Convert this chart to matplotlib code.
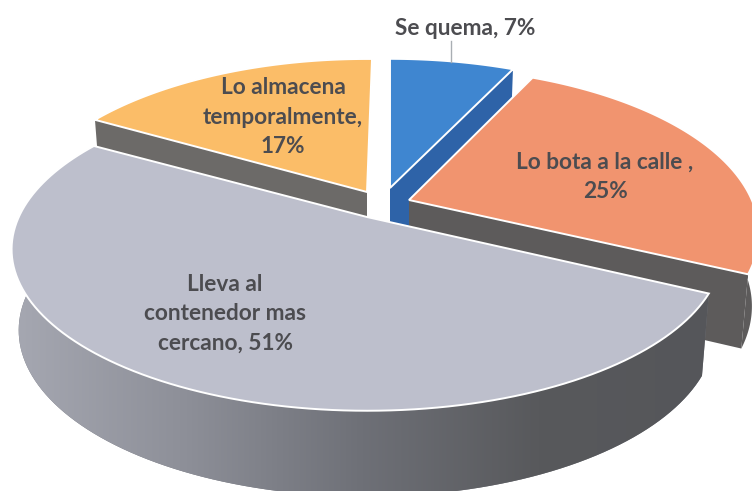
import numpy as np
import matplotlib
matplotlib.use('Agg')
import matplotlib.pyplot as plt
from matplotlib.patches import Polygon
from matplotlib.colors import LinearSegmentedColormap

# Data, clockwise from 12 o'clock
labels = ['Se quema, 7%', 'Lo bota a la calle ,\n25%', 'Lleva al\ncontenedor mas\ncercano, 51%',
          'Lo almacena\ntemporalmente,\n17%']
values = [7, 25, 51, 17]

# Styles
top_colors = ['#3f86d0', '#f1946f', '#bdbfcc', '#fbbd68']
wall_colors = ['#2e63a8', '#5d5b5b', '#777981', '#6c6a68']
apexes = [(390, 188), (409, 200), (367, 217), (367, 192)]
scales = [(0.95, 1.0), (0.955, 1.03), (0.97, 1.0), (0.96, 1.03)]
spins = [0, 0, 1.5, 1.0]
depths = [72, 72, 80, 72]
label_pos = [(465, 28), (605, 177), (225, 314), (283, 117)]
# the cut face that can be seen: 0 = start edge, 1 = end edge, None = no face
faces = [1, 1, None, 0]
outer_wall = [False, True, True, False]
draw_order = [3, 0, 1, 2]

# Fake perspective of the pie plane
RX, RY, K = 359, 155, 0.2
SX, SY = 0.98, 1.03

fig = plt.figure(figsize=(7.52, 4.91), dpi=100)
ax = fig.add_axes([0, 0, 1, 1])


def rim(theta, scale):
    u, v = np.sin(theta), -np.cos(theta)
    w = 1 - K * v
    return scale[0] * RX * u / w, scale[1] * RY * v / w


def top_pts(apex, theta, scale):
    dx, dy = rim(theta, scale)
    return np.column_stack([apex[0] + dx, apex[1] + dy])


def bottom_pts(apex, theta, scale, depth):
    dx, dy = rim(theta, scale)
    return np.column_stack([apex[0] + SX * dx, apex[1] + SY * dy + depth])


edges = np.cumsum([0] + values) / sum(values) * 2 * np.pi
gradient = LinearSegmentedColormap.from_list('wall', ['#a6a8b2', '#8d8f98', '#6e7077', '#58595c', '#55565a'])

for n, i in enumerate(draw_order):
    spin = np.deg2rad(spins[i])
    theta = np.linspace(edges[i] + spin, edges[i + 1] + spin, 120)
    apex = apexes[i]
    t = top_pts(apex, theta, scales[i])
    b = bottom_pts(apex, theta, scales[i], depths[i])
    if outer_wall[i]:
        wall = Polygon(np.vstack([t, b[::-1]]), closed=True, fc=wall_colors[i], ec='none', zorder=n * 3 + 1)
        ax.add_patch(wall)
    if i == 2:
        # the big slice has a shaded wall
        img = ax.imshow(np.linspace(0, 1, 256).reshape(1, -1), cmap=gradient, extent=(10, 715, 491, 200),
                        aspect='auto', zorder=n * 3 + 1.5)
        img.set_clip_path(wall)
    if faces[i] is not None:
        e = [0, -1][faces[i]]
        apex_low = (apex[0], apex[1] + depths[i])
        face = [apex, t[e], b[e], apex_low]
        ax.add_patch(Polygon(face, closed=True, fc=wall_colors[i], ec='none', zorder=n * 3 + 2))
    ax.add_patch(Polygon(np.vstack([[apex], t]), closed=True, fc=top_colors[i], ec='white', lw=1.4,
                         joinstyle='miter', zorder=n * 3 + 3))

# leader line of the small slice
ax.plot([451, 451], [41, 62], color='#a9aeb3', lw=1, zorder=20)

for lab, (x, y) in zip(labels, label_pos):
    ax.text(x, y, lab, ha='center', va='center', fontsize=16.3, fontweight='bold', family='Lato',
            color='#4c4c50', linespacing=1.48, zorder=30)

ax.set_xlim(0, 752)
ax.set_ylim(491, 0)
ax.axis('off')
fig.savefig('out.png', dpi=100)
